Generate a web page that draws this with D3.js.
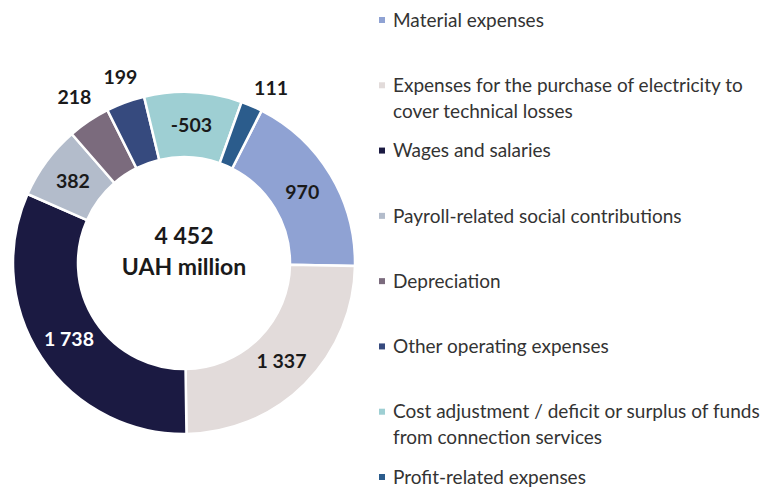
<!DOCTYPE html>
<html>
<head>
<meta charset="utf-8">
<script src="https://cdn.jsdelivr.net/npm/d3@7"></script>
<style>
  body { margin: 0; background: #fff; }
  text { font-family: Lato, "Noto Sans", sans-serif; }
</style>
</head>
<body>
<svg id="chart" width="761" height="489"></svg>
<script>
// Cost structure, UAH million
const categories = [
  'Material expenses',
  'Expenses for the purchase of electricity to cover technical losses',
  'Wages and salaries',
  'Payroll-related social contributions',
  'Depreciation',
  'Other operating expenses',
  'Cost adjustment / deficit or surplus of funds from connection services',
  'Profit-related expenses'
];
const values = [970, 1337, 1738, 382, 218, 199, -503, 111];
const valueLabels = ['970', '1 337', '1 738', '382', '218', '199', '-503', '111'];
const legendLines = [
  ['Material expenses'],
  ['Expenses for the purchase of electricity to', 'cover technical losses'],
  ['Wages and salaries'],
  ['Payroll-related social contributions'],
  ['Depreciation'],
  ['Other operating expenses'],
  ['Cost adjustment / deficit or surplus of funds', 'from connection services'],
  ['Profit-related expenses']
];
const totalLabel = ['4 452', 'UAH million'];

const colors = ['#8fa2d3', '#e2dbda', '#1b1a42', '#b3bccb', '#7b6b7d', '#364a7e', '#9ecfd3', '#2b5c8c'];

const svg = d3.select('#chart');
const cx = 184, cy = 263;
const outerR = 171, innerR = 106;
const start = 27 * Math.PI / 180;

// slices sized by absolute value, drawn in series order
const data = values.map((v, i) => ({ name: categories[i], value: v, label: valueLabels[i], i }));

const pie = d3.pie()
  .sort(null)
  .value(d => Math.abs(d.value))
  .startAngle(start)
  .endAngle(start + 2 * Math.PI);

const arc = d3.arc().innerRadius(innerR).outerRadius(outerR);
const labelArc = d3.arc().innerRadius(138).outerRadius(138);
const outsideArc = d3.arc().innerRadius(197).outerRadius(197);

const color = d3.scaleOrdinal().domain(categories).range(colors);

const g = svg.append('g').attr('transform', `translate(${cx},${cy})`);
const arcs = pie(data);

g.selectAll('path')
  .data(arcs)
  .enter()
  .append('path')
  .attr('d', arc)
  .attr('fill', d => color(d.data.name))
  .attr('stroke', '#fff')
  .attr('stroke-width', 2.5);

// small slices get their labels outside the ring
const outside = new Set([4, 5, 7]);
const nudge = { 4: [0, -2], 5: [4, -1], 7: [9, 6] };

g.selectAll('text.val')
  .data(arcs)
  .enter()
  .append('text')
  .attr('class', 'val')
  .attr('transform', d => {
    const p = (outside.has(d.data.i) ? outsideArc : labelArc).centroid(d);
    const n = nudge[d.data.i] || [0, 0];
    return `translate(${p[0] + n[0]},${p[1] + n[1]})`;
  })
  .attr('text-anchor', 'middle')
  .attr('dy', '0.36em')
  .style('font-size', '19.5px')
  .style('font-weight', 'bold')
  .style('fill', d => d.data.i === 2 ? '#ffffff' : '#1a1a1a')
  .text(d => d.data.label);

// total in the hole
g.append('text')
  .attr('text-anchor', 'middle')
  .attr('y', -19)
  .style('font-size', '23px')
  .style('font-weight', 'bold')
  .style('fill', '#1a1a1a')
  .text(totalLabel[0]);
g.append('text')
  .attr('text-anchor', 'middle')
  .attr('y', 12)
  .style('font-size', '23px')
  .style('font-weight', 'bold')
  .style('fill', '#1a1a1a')
  .text(totalLabel[1]);

// legend
const legendY = d3.scalePoint()
  .domain(categories)
  .range([20, 477]);

const legend = svg.append('g');
const rows = legend.selectAll('g')
  .data(categories)
  .enter()
  .append('g')
  .attr('transform', d => `translate(379,${legendY(d)})`);

rows.append('rect')
  .attr('x', 0)
  .attr('y', -3)
  .attr('width', 6)
  .attr('height', 6)
  .attr('fill', d => color(d));

rows.each(function (d, i) {
  const t = d3.select(this).append('text')
    .attr('x', 14)
    .attr('y', 0)
    .style('font-size', '19px')
    .style('fill', '#333333');
  legendLines[i].forEach((line, k) => {
    t.append('tspan')
      .attr('x', 14)
      .attr('dy', k === 0 ? '0.35em' : '26px')
      .text(line);
  });
});
</script>
</body>
</html>
